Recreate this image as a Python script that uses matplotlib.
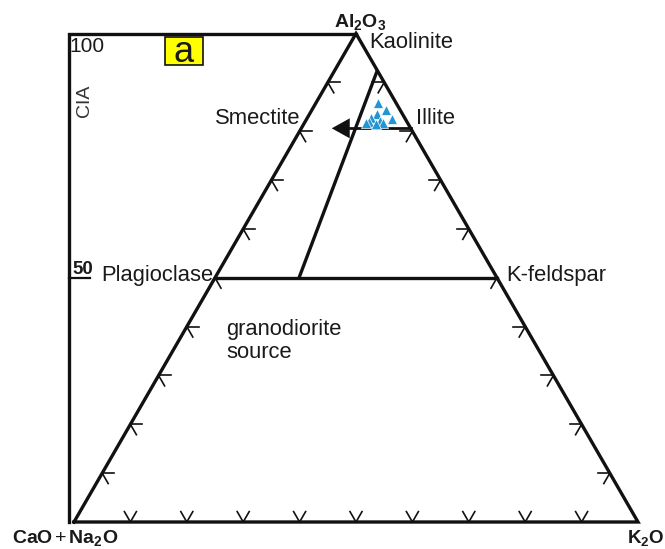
import numpy as np
import matplotlib
matplotlib.use("Agg")
import matplotlib.pyplot as plt
from matplotlib.patches import Rectangle, Polygon

plt.rcParams['font.family'] = ['Liberation Sans', 'DejaVu Sans']
plt.rcParams['mathtext.fontset'] = 'custom'
plt.rcParams['mathtext.rm'] = 'Liberation Sans'
plt.rcParams['mathtext.bf'] = 'Liberation Sans:bold'
plt.rcParams['mathtext.it'] = 'Liberation Sans:italic'

# samples (Al2O3 and K2O fractions, CaO+Na2O is the rest)
sample_A = [0.857, 0.843, 0.826, 0.836, 0.828, 0.822, 0.816, 0.818, 0.814, 0.816]
sample_K = [0.111, 0.132, 0.151, 0.119, 0.113, 0.132, 0.140, 0.114, 0.128, 0.110]

# reference lines (A, K)
feldspar_A = 0.5
trend_start = (0.50, 0.149)
trend_end = (0.922, 0.076)
illite_A = 0.806
illite_K = (0.096, 0.194)
arrow_tip_K = 0.054
tick_fracs = [0.1, 0.2, 0.3, 0.4, 0.5, 0.6, 0.7, 0.8, 0.9]
cia_ticks = [100, 50]

H = np.sqrt(3) / 2


def tern(a, k):
    a = np.asarray(a, float)
    k = np.asarray(k, float)
    return k + a / 2, a * H


def px(x, y):
    # pixel position in the 665x549 image -> data coords
    return (x - 74) / 564, (522 - y) / 564


fig = plt.figure(figsize=(6.65, 5.49), dpi=100)
ax = fig.add_axes([0, 0, 1, 1])
ax.set_xlim(-74 / 564, (665 - 74) / 564)
ax.set_ylim((522 - 549) / 564, 522 / 564)
ax.axis('off')

lw = 2.4
col = '#111111'

# triangle
tx, ty = tern([0, 0, 1, 0], [0, 1, 0, 0])
ax.plot(tx, ty, color=col, lw=lw, solid_joinstyle='miter')

# CIA axis
cx = px(69, 0)[0]
ax.plot([cx, cx, 0.5], [0, H, H], color=col, lw=lw, solid_joinstyle='miter')
y50 = feldspar_A * H
ax.plot([cx, px(90, 0)[0]], [y50, y50], color=col, lw=1.6)

# plagioclase - K-feldspar line
fx, fy = tern([feldspar_A, feldspar_A], [0, 1 - feldspar_A])
ax.plot(fx, fy, color=col, lw=lw)

# weathering trend line
wx, wy = tern([trend_start[0], trend_end[0]], [trend_start[1], trend_end[1]])
ax.plot(wx, wy, color=col, lw=lw)

# illite line and arrow
ix, iy = tern([illite_A, illite_A], list(illite_K))
ax.plot(ix, iy, color=col, lw=2.0)
tipx, tipy = tern(illite_A, arrow_tip_K)
hl, hw = 18 / 564, 10 / 564
ax.plot([tipx + hl, ix[0]], [tipy, tipy], color=col, lw=2.0)
ax.add_patch(Polygon([[tipx, tipy], [tipx + hl, tipy + hw], [tipx + hl, tipy - hw]],
                     closed=True, color=col, lw=0))

# chevron ticks on the three sides
L = 12 / 564
d_right = np.array([1.0, 0.0])
d_downright = np.array([0.5, -H])
d_downleft = np.array([-0.5, -H])
d_upleft = np.array([-0.5, H])
d_upright = np.array([0.5, H])
for f in tick_fracs:
    # left side (CaO+Na2O - Al2O3)
    p = np.array(tern(f, 0))
    for d in (d_right, d_downright):
        ax.plot([p[0], p[0] + L * d[0]], [p[1], p[1] + L * d[1]], color=col, lw=1.2)
    # right side (Al2O3 - K2O)
    p = np.array(tern(f, 1 - f))
    for d in (-d_right, d_downleft):
        ax.plot([p[0], p[0] + L * d[0]], [p[1], p[1] + L * d[1]], color=col, lw=1.2)
    # bottom (CaO+Na2O - K2O)
    p = np.array(tern(0, f))
    for d in (d_upleft, d_upright):
        ax.plot([p[0], p[0] + L * d[0]], [p[1], p[1] + L * d[1]], color=col, lw=1.2)

# samples
sx, sy = tern(sample_A, sample_K)
ax.scatter(sx, sy, marker='^', s=52, color='#2196d3', edgecolors='white',
           linewidths=0.5, zorder=5)

# labels
tc = '#1a1a1a'
fs = 15.8
ax.text(*px(360, 22), r'$\mathbf{Al_2O_3}$', fontsize=14, ha='center', va='center', color=tc)
ax.text(*px(369, 42), 'Kaolinite', fontsize=fs, ha='left', va='center', color=tc)
ax.text(*px(300, 118), 'Smectite', fontsize=fs, ha='right', va='center', color=tc)
ax.text(*px(416, 118), 'Illite', fontsize=fs, ha='left', va='center', color=tc)
ax.text(*px(101, 276), 'Plagioclase', fontsize=fs, ha='left', va='center', color=tc)
ax.text(*px(506, 276), 'K-feldspar', fontsize=fs, ha='left', va='center', color=tc)
ax.text(*px(226, 330), 'granodiorite', fontsize=fs, ha='left', va='center', color=tc)
ax.text(*px(226, 353), 'source', fontsize=fs, ha='left', va='center', color=tc)
ax.text(*px(69, 46), str(cia_ticks[0]), fontsize=15, ha='left', va='center', color=tc)
ax.text(*px(72, 270), str(cia_ticks[1]), fontsize=13.5, fontweight='bold',
        ha='left', va='center', color=tc)
ax.text(*px(85, 101), 'CIA', fontsize=14, rotation=90, ha='center', va='center', color='#333333')
ax.text(*px(12, 538), r'$\mathbf{CaO}\,$+$\,\mathbf{Na_2O}$', fontsize=14, ha='left',
        va='center', color=tc)
ax.text(*px(627, 538), r'$\mathbf{K_2O}$', fontsize=13.5, ha='left', va='center', color=tc)

# panel label
bx0, by0 = px(165, 65)
bx1, by1 = px(203, 37)
ax.add_patch(Rectangle((bx0, by0), bx1 - bx0, by1 - by0, facecolor='#ffff00',
                       edgecolor=col, lw=1.2, zorder=4))
ax.text((bx0 + bx1) / 2, px(0, 62)[1], 'a', fontsize=26, ha='center',
        va='baseline', color=tc, zorder=5)

fig.savefig('out.png', dpi=100)
